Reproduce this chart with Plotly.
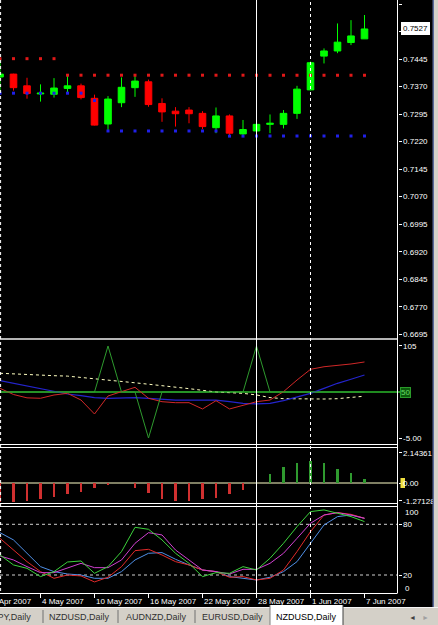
import plotly.graph_objects as go

W, H = 438, 625
PLOT_R = 397.5      # right edge of plotting area (px)
BAR_PX = 13.5       # px per bar

# ---------------- data ----------------
bar_index = list(range(28))
date_label_index = [-1, 3, 7, 11, 15, 19, 23, 27]
date_labels = ["30 Apr 2007", "4 May 2007", "10 May 2007", "16 May 2007",
               "22 May 2007", "28 May 2007", "1 Jun 2007", "7 Jun 2007"]

opens = [0.7396, 0.7404, 0.7372, 0.7350, 0.7349, 0.7365, 0.7372, 0.7338, 0.7268, 0.7326,
         0.7367, 0.7383, 0.7324, 0.7303, 0.7306, 0.7297, 0.7258, 0.7290, 0.7241, 0.7249,
         0.7267, 0.7267, 0.7297, 0.7361, 0.7453, 0.7467, 0.7490, 0.7500]
highs = [0.7440, 0.7405, 0.7394, 0.7376, 0.7393, 0.7400, 0.7378, 0.7348, 0.7344, 0.7395,
         0.7403, 0.7389, 0.7338, 0.7314, 0.7314, 0.7303, 0.7313, 0.7294, 0.7279, 0.7268,
         0.7294, 0.7306, 0.7372, 0.7438, 0.7474, 0.7542, 0.7551, 0.7565]
lows = [0.7350, 0.7359, 0.7337, 0.7329, 0.7340, 0.7352, 0.7335, 0.7264, 0.7252, 0.7314,
        0.7342, 0.7315, 0.7274, 0.7261, 0.7270, 0.7254, 0.7243, 0.7238, 0.7238, 0.7240,
        0.7243, 0.7256, 0.7282, 0.7360, 0.7433, 0.7461, 0.7483, 0.7500]
closes = [0.7404, 0.7367, 0.7351, 0.7352, 0.7366, 0.7372, 0.7340, 0.7265, 0.7336, 0.7368,
          0.7385, 0.7321, 0.7301, 0.7296, 0.7296, 0.7261, 0.7290, 0.7243, 0.7253, 0.7267,
          0.7270, 0.7297, 0.7363, 0.7435, 0.7467, 0.7491, 0.7508, 0.7527]

resist_level = [0.7446] * 5 + [0.7401] * 23
support_level = [0.7352] * 7 + [0.7332] + [0.7249] * 9 + [0.7235] * 11

price_ticks = [0.7595, 0.7520, 0.7445, 0.7370, 0.7295, 0.7220, 0.7145, 0.7070,
               0.6995, 0.6920, 0.6845, 0.6770, 0.6695]
last_price = "0.7527"

# panel 1 (oscillator, 50 centred)
p1_green = [50, 50, 50, 50, 50, 50, 50, 50, 105, 50, 50, -5, 50, 50, 50, 50, 50, 50,
            50, 105, 50, 50, 50, 50, 50, 50, 50, 50]
p1_yellow = [72.4, 71.5, 70.5, 70.0, 69.5, 69.0, 67.5, 66.3, 64.8, 63.0, 61.0, 59.3, 57.8,
             56.0, 54.0, 52.0, 50.0, 49.2, 48.4, 46.5, 43.3, 42.0, 41.6, 41.6, 41.6, 42.0,
             43.5, 45.0]
p1_blue = [63.5, 60.4, 57.2, 54.0, 50.4, 47.6, 45.6, 43.2, 42.4, 43.2, 43.2, 42.4, 41.2,
           40.4, 40.4, 40.4, 40.4, 38.4, 36.5, 35.7, 36.5, 39.6, 44.4, 48.4, 54.4, 60.4,
           65.2, 70.3]
p1_red = [54.4, 47.0, 43.0, 42.5, 46.4, 48.4, 40.4, 23.7, 45.2, 50.4, 55.6, 42.5, 38.4,
          37.2, 37.2, 29.7, 39.6, 29.7, 34.5, 38.4, 40.4, 50.4, 64.3, 77.1, 80.2, 81.4,
          83.5, 85.9]
p1_ticks = [105, -5]
p1_ticktext = ["105", "-5.00"]

# panel 2 (histogram)
p2_hist = [-1.38, -1.38, -1.29, -1.14, -0.98, -0.81, -0.67, -0.38, -0.14, -0.02, -0.33,
           -0.69, -1.14, -1.26, -1.26, -1.17, -1.05, -0.81, -0.50, 0.0, 0.62, 1.16, 1.45,
           1.57, 1.41, 1.02, 0.74, 0.29]
p2_ticks = [2.14361, -1.27128]
p2_ticktext = ["2.14361", "-1.27128"]

# panel 3 (stochastics)
st_green = [43.7, 31.9, 27.9, 18.1, 24.0, 35.4, 36.6, 22.0, 29.9, 47.7, 76.4, 74.1, 61.5,
            45.7, 33.8, 18.1, 22.8, 22.0, 29.9, 25.9, 39.8, 57.5, 77.2, 95.0, 97.0, 93.0,
            89.1, 83.2]
st_magenta = [42.5, 37.8, 29.9, 22.8, 22.8, 27.9, 33.8, 28.7, 28.7, 37.8, 57.5, 70.1, 67.4,
              49.6, 37.8, 25.9, 24.0, 21.2, 26.7, 26.7, 33.8, 45.7, 63.4, 81.2, 91.0, 93.8,
              91.0, 87.1]
st_red = [63.4, 49.6, 35.8, 24.0, 16.1, 20.0, 18.9, 11.8, 17.3, 29.9, 48.8, 50.4, 43.7,
          35.8, 31.9, 25.9, 24.0, 17.3, 18.1, 14.1, 16.1, 25.9, 47.7, 71.3, 91.0, 93.8,
          91.8, 87.1]
st_blue = [70.1, 61.5, 45.7, 29.9, 24.0, 21.2, 20.0, 16.1, 16.1, 24.0, 37.8, 45.7, 46.5,
           38.6, 31.9, 25.9, 24.0, 18.1, 16.1, 14.1, 17.3, 24.0, 35.8, 57.5, 79.2, 89.1,
           91.0, 87.1]
st_levels = [80, 20]

tabs = ["USDJPY,Daily", "NZDUSD,Daily", "AUDNZD,Daily", "EURUSD,Daily"]
active_tab = "NZDUSD,Daily"

# ---------------- helpers ----------------
def fx(x):
    return x / W

def fy(y):
    return 1 - y / H

FONT = "Liberation Sans, Arial, sans-serif"
shapes = []
annotations = []

def hline(y, x0, x1, color, width=1, dash="solid"):
    shapes.append(dict(type="line", xref="paper", yref="paper", x0=fx(x0), x1=fx(x1),
                       y0=fy(y), y1=fy(y), line=dict(color=color, width=width, dash=dash)))

def vline(x, y0, y1, color, width=1, dash="solid"):
    shapes.append(dict(type="line", xref="paper", yref="paper", x0=fx(x), x1=fx(x),
                       y0=fy(y0), y1=fy(y1), line=dict(color=color, width=width, dash=dash)))

def rect(x0, y0, x1, y1, fill, line=None):
    shapes.append(dict(type="rect", xref="paper", yref="paper", x0=fx(x0), x1=fx(x1),
                       y0=fy(y1), y1=fy(y0), fillcolor=fill,
                       line=dict(width=0) if line is None else dict(color=line, width=1)))

# ---------------- figure ----------------
fig = go.Figure()

fig.add_trace(go.Candlestick(
    x=bar_index, open=opens, high=highs, low=lows, close=closes,
    increasing=dict(line=dict(color="#00ff00", width=1), fillcolor="#00ff00"),
    decreasing=dict(line=dict(color="#ff0000", width=1), fillcolor="#ff0000"),
    whiskerwidth=0, xaxis="x", yaxis="y", showlegend=False, hoverinfo="skip"))

fig.add_trace(go.Scatter(x=bar_index, y=resist_level, mode="markers",
                         marker=dict(symbol="square", size=3, color="#e01818"),
                         xaxis="x", yaxis="y", showlegend=False))
fig.add_trace(go.Scatter(x=bar_index, y=support_level, mode="markers",
                         marker=dict(symbol="square", size=3, color="#2020e8"),
                         xaxis="x", yaxis="y", showlegend=False))

# panel 1
fig.add_trace(go.Scatter(x=bar_index, y=p1_yellow, mode="lines",
                         line=dict(color="#ffffc0", width=1, dash="3px,3px"),
                         xaxis="x2", yaxis="y2", showlegend=False))
fig.add_trace(go.Scatter(x=bar_index, y=p1_blue, mode="lines",
                         line=dict(color="#2424cc", width=1.2),
                         xaxis="x2", yaxis="y2", showlegend=False))
fig.add_trace(go.Scatter(x=bar_index, y=p1_red, mode="lines",
                         line=dict(color="#d02828", width=1),
                         xaxis="x2", yaxis="y2", showlegend=False))
fig.add_trace(go.Scatter(x=bar_index, y=p1_green, mode="lines",
                         line=dict(color="#2e9a2e", width=1),
                         xaxis="x2", yaxis="y2", showlegend=False))

# panel 2
fig.add_trace(go.Bar(x=bar_index, y=p2_hist, width=0.15,
                     marker=dict(color=["#2f9a2f" if v > 0 else "#d03030" for v in p2_hist],
                                 line=dict(width=0)),
                     xaxis="x3", yaxis="y3", showlegend=False))

# panel 3
for vals, col in [(st_blue, "#4f8fe6"), (st_red, "#e02a2a"),
                  (st_magenta, "#d040d0"), (st_green, "#3cd23c")]:
    fig.add_trace(go.Scatter(x=bar_index, y=vals, mode="lines",
                             line=dict(color=col, width=1),
                             xaxis="x4", yaxis="y4", showlegend=False))

# ---------------- axes ----------------
xr = [0, PLOT_R / BAR_PX]
xdom = [0, PLOT_R / W]
axis_common = dict(showgrid=False, zeroline=False, showline=False, fixedrange=True)

doms = {
    "main": [fy(338), 1],
    "p1": [fy(444), fy(341)],
    "p2": [fy(503), fy(448)],
    "p3": [fy(593), fy(507)],
}

# the 0.7520 label is hidden behind the last-price box, as in the reference
price_ticktext = ["" if v == 0.7520 else f"{v:.4f}" for v in price_ticks]

layout = dict(
    width=W, height=H, margin=dict(l=0, r=0, t=0, b=0),
    paper_bgcolor="black", plot_bgcolor="black",
    font=dict(family=FONT, size=8, color="white"),
    bargap=0, showlegend=False,
    xaxis=dict(domain=xdom, range=xr, anchor="y", showticklabels=False,
               rangeslider=dict(visible=False), **axis_common),
    xaxis2=dict(domain=xdom, range=xr, anchor="y2", showticklabels=False, **axis_common),
    xaxis3=dict(domain=xdom, range=xr, anchor="y3", showticklabels=False, **axis_common),
    xaxis4=dict(domain=xdom, range=xr, anchor="y4", showticklabels=False,
                ticks="outside", tickvals=date_label_index, ticklen=4, tickcolor="white",
                **axis_common),
    yaxis=dict(domain=doms["main"], range=[0.66849, 0.76059], side="right", anchor="x",
               tickvals=price_ticks, ticktext=price_ticktext,
               ticks="outside", ticklen=3, tickcolor="white", automargin=False,
               **axis_common),
    yaxis2=dict(domain=doms["p1"], range=[-12.17, 110.97], side="right", anchor="x2",
                tickvals=p1_ticks, ticktext=p1_ticktext, ticks="outside", ticklen=3,
                tickcolor="white", automargin=False, **axis_common),
    yaxis3=dict(domain=doms["p2"], range=[-1.4286, 2.5], side="right", anchor="x3",
                tickvals=p2_ticks + [0], ticktext=p2_ticktext + [""], ticks="outside",
                ticklen=3, tickcolor="white", automargin=False, **axis_common),
    yaxis4=dict(domain=doms["p3"], range=[-1.3, 100.47], side="right", anchor="x4",
                tickvals=st_levels, ticktext=[str(v) for v in st_levels], ticks="outside",
                ticklen=3, tickcolor="white", automargin=False, **axis_common),
)

# level lines inside panels
shapes.append(dict(type="line", xref="paper", yref="y2", x0=0, x1=fx(401), y0=50, y1=50,
                   line=dict(color="#1f8a1f", width=2), layer="below"))
shapes.append(dict(type="line", xref="paper", yref="y3", x0=0, x1=fx(PLOT_R), y0=0, y1=0,
                   line=dict(color="#ffffc8", width=1), layer="below"))
for lv in st_levels:
    shapes.append(dict(type="line", xref="paper", yref="y4", x0=0, x1=fx(PLOT_R), y0=lv,
                       y1=lv, line=dict(color="#d0d0d0", width=1, dash="3px,3px"),
                       layer="below"))

# panel separators / frame
rect(0, 338, PLOT_R, 340, "#b4b4b4")
hline(444.5, 0, PLOT_R, "white")
hline(447.5, 0, PLOT_R, "white")
hline(503.5, 0, PLOT_R, "white")
hline(506.5, 0, PLOT_R, "white")
hline(593.5, 0, PLOT_R, "white")
vline(PLOT_R, 0, 593, "white")
vline(0.6, 0, 593, "white", 1, "dot")

# vertical markers (28 May solid, 1 Jun dashed)
shapes.append(dict(type="line", xref="x", yref="paper", x0=19, x1=19, y0=fy(593), y1=1,
                   line=dict(color="white", width=1)))
shapes.append(dict(type="line", xref="x", yref="paper", x0=23, x1=23, y0=fy(593), y1=1,
                   line=dict(color="white", width=1, dash="3px,3px")))

# right window border
rect(432.5, 0, 434, 608, "#5a6a9a")
rect(434, 0, 438, 608, "#d4d0c8")

# value boxes on the right scale
annotations.append(dict(xref="paper", yref="y", x=fx(401), y=float(last_price),
                        xanchor="left", yanchor="middle", text=last_price, showarrow=False,
                        bgcolor="white", bordercolor="white", borderpad=1,
                        font=dict(color="black", size=8, family=FONT)))
annotations.append(dict(xref="paper", yref="y2", x=fx(400), y=50, xanchor="left",
                        yanchor="middle", text="50", showarrow=False, bgcolor="#0b5a0b",
                        bordercolor="#2a9a2a", borderwidth=1, borderpad=0,
                        font=dict(color="#66dd66", size=8, family=FONT)))
shapes.append(dict(type="rect", xref="paper", yref="paper", x0=fx(400.5), x1=fx(405),
                   y0=fy(488), y1=fy(478), fillcolor="#f0e040", line=dict(width=0)))
annotations.append(dict(xref="paper", yref="y3", x=fx(400.5), y=0, xanchor="left",
                        yanchor="middle", text="0.00", showarrow=False,
                        font=dict(color="white", size=8, family=FONT)))
annotations.append(dict(xref="paper", yref="paper", x=fx(403), y=fy(512), xanchor="left",
                        yanchor="middle", text="100", showarrow=False,
                        font=dict(color="white", size=8, family=FONT)))
annotations.append(dict(xref="paper", yref="paper", x=fx(403), y=fy(588), xanchor="left",
                        yanchor="middle", text="0", showarrow=False,
                        font=dict(color="white", size=8, family=FONT)))

# date labels (left-aligned at their bar; positioned in paper space so the
# first, partly off-screen label is still drawn)
for i, lab in zip(date_label_index, date_labels):
    annotations.append(dict(xref="paper", yref="paper", x=fx(i * BAR_PX - 0.5), y=fy(601),
                            xanchor="left", yanchor="middle", text=lab, showarrow=False,
                            font=dict(color="white", size=8, family=FONT)))

# tab bar
rect(0, 607, W, H, "#d4d0c8")
hline(607.5, 0, W, "#f4f4f4")
rect(270, 605, 343, H, "#ffffff")
vline(270, 605, H, "#808080")
vline(343, 605, H, "#404040")
tab_centers = [0, 79, 156, 232]
for k, (t, cx) in enumerate(zip(tabs, tab_centers)):
    annotations.append(dict(xref="paper", yref="paper",
                            x=fx(33) if k == 0 else fx(cx), y=fy(617),
                            xanchor="right" if k == 0 else "center", yanchor="middle",
                            text=t, showarrow=False,
                            font=dict(color="#303030", size=9, family=FONT)))
for sx in [43, 118, 195]:
    vline(sx, 610, 623, "#707070")
annotations.append(dict(xref="paper", yref="paper", x=fx(306), y=fy(617), xanchor="center",
                        yanchor="middle", text=active_tab, showarrow=False,
                        font=dict(color="black", size=9, family=FONT)))
annotations.append(dict(xref="paper", yref="paper", x=fx(412), y=fy(617), xanchor="center",
                        yanchor="middle", text="◄", showarrow=False,
                        font=dict(color="#404040", size=7, family=FONT)))
annotations.append(dict(xref="paper", yref="paper", x=fx(425), y=fy(617), xanchor="center",
                        yanchor="middle", text="►", showarrow=False,
                        font=dict(color="#a0a0a0", size=7, family=FONT)))

layout["shapes"] = shapes
layout["annotations"] = annotations
fig.update_layout(**layout)

fig.write_html("out.html", config=dict(displayModeBar=False, staticPlot=True))
